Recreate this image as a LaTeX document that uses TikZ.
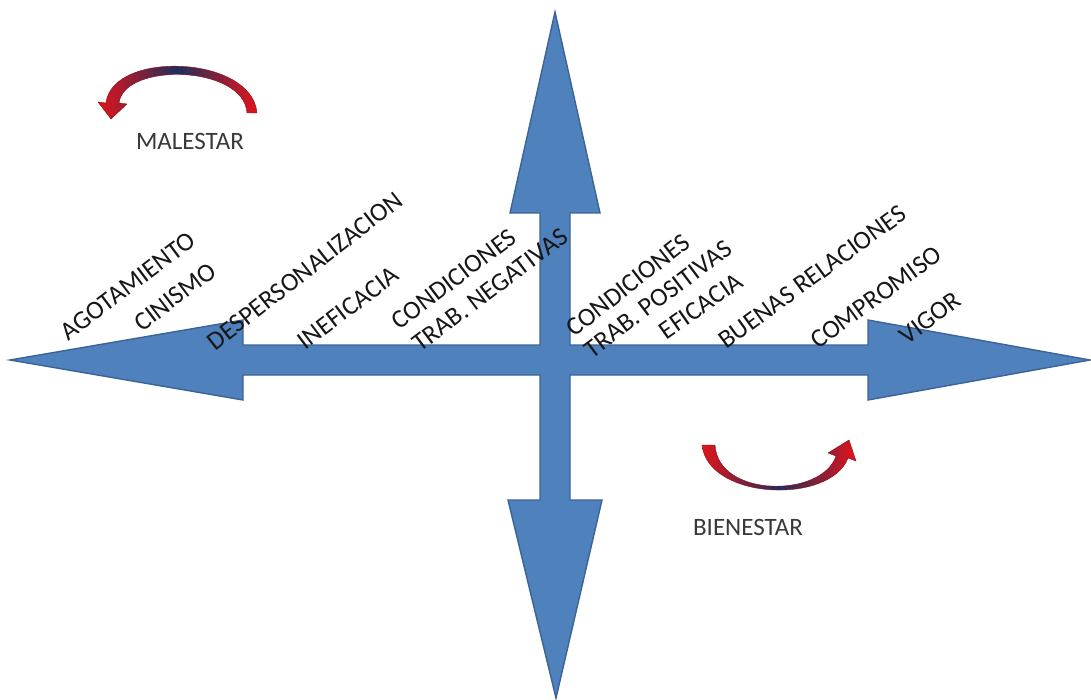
\documentclass[tikz,border=0pt]{standalone}
\usepackage{fontspec}
\setmainfont{Carlito}
\definecolor{crossfill}{HTML}{4F81BD}
\definecolor{crossline}{HTML}{3A6498}
\definecolor{arcred}{HTML}{E2141B}
\definecolor{arcnavy}{HTML}{1F2F5C}
\definecolor{labelink}{HTML}{161616}
\begin{document}
\begin{tikzpicture}[x=1pt,y=-1pt,
  lbl/.style={font=\fontsize{26}{30}\selectfont, text=labelink, inner sep=0pt, rotate=37},
  caption/.style={font=\fontsize{25}{30}\selectfont, text=labelink!85!white, inner sep=0pt},
  crossarrow/.style={fill=crossfill, draw=crossline, line width=1.4pt, line join=miter},
  turnarrow/.style={left color=arcred, right color=arcred, middle color=arcnavy,
                    draw=arcred!60!black, line width=0.4pt}]
\useasboundingbox (0,0) rectangle (1091,700);

% four-way arrow
\path[crossarrow]
  (10,360) -- (243,320) -- (243,345) -- (540,345) -- (540,213) -- (510,213)
  -- (555,12) -- (600,213) -- (570,213) -- (570,345) -- (868,345) -- (868,320)
  -- (1090,360) -- (868,400) -- (868,375) -- (570,375) -- (570,500) -- (602,500)
  -- (556,698) -- (508,500) -- (540,500) -- (540,375) -- (243,375) -- (243,400)
  -- cycle;

% curved arrow over MALESTAR, head on the left
\path[turnarrow]
  (257,113) .. controls (252,55) and (112,50) .. (106,103)
  -- (98,102) -- (111,119) -- (127,104) -- (119,103)
  .. controls (124,62) and (244,65) .. (247,113) -- cycle;

% curved arrow over BIENESTAR, head on the right
\path[turnarrow]
  (702,445) .. controls (708,500) and (830,505) .. (848,458)
  -- (856,461) -- (849,440) -- (828,453) -- (836,456)
  .. controls (822,498) and (718,498) .. (715,445) -- cycle;

\node[caption] (mal) at (190,141) {MALESTAR};
\node[caption] (bien) at (748,527) {BIENESTAR};

% negative side
\node[lbl] (agot) at (128,286) {AGOTAMIENTO};
\node[lbl] (cin) at (175,297) {CINISMO};
\node[lbl, rotate=1] (desp) at (305,271) {DESPERSONALIZACION};
\node[lbl] (inef) at (348,308) {INEFICACIA};
\node[lbl] (condn) at (454,279) {CONDICIONES};
\node[lbl] (trabn) at (490,290) {TRAB. NEGATIVAS};

% positive side
\node[lbl, rotate=1] (condp) at (628,285) {CONDICIONES};
\node[lbl] (trabp) at (658,299) {TRAB. POSITIVAS};
\node[lbl, rotate=-2] (efic) at (701,306) {EFICACIA};
\node[lbl, rotate=-1] (buen) at (812,277) {BUENAS RELACIONES};
\node[lbl, rotate=-1] (comp) at (876,297) {COMPROMISO};
\node[lbl] (vig) at (930,318) {VIGOR};
\end{tikzpicture}
\end{document}
